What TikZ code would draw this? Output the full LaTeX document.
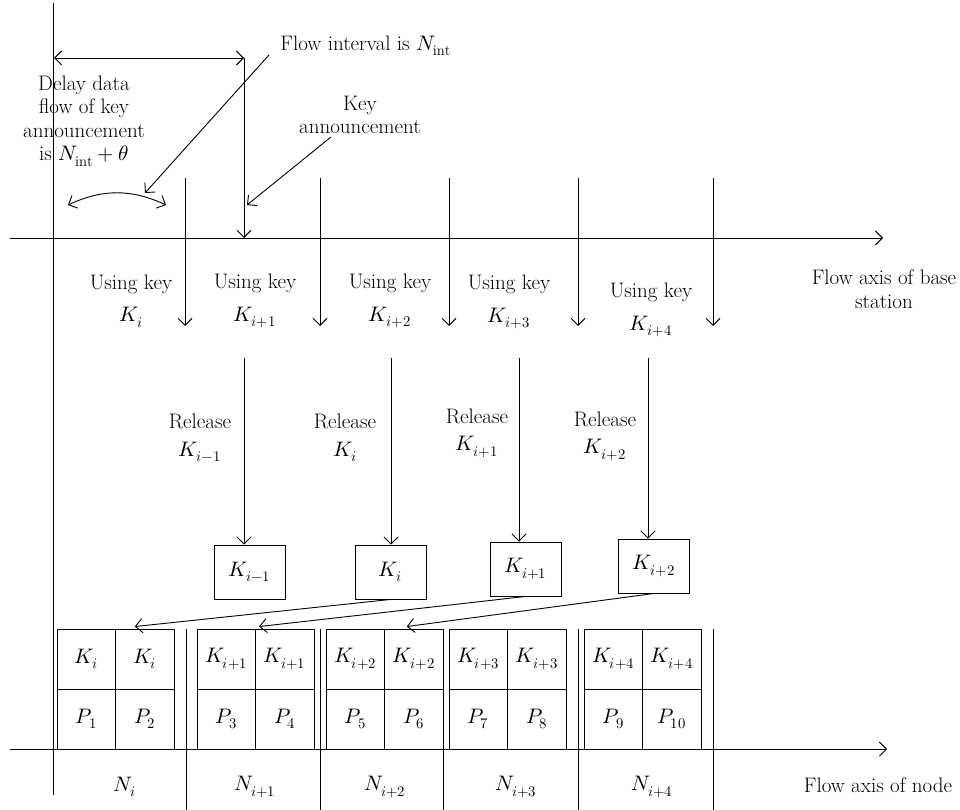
\documentclass[tikz,border=0pt]{standalone}
\usepackage{fontspec}
\usepackage{unicode-math}
\usetikzlibrary{arrows.meta}
\tikzstyle{arr} = [-{Straight Barb[length=7pt,width=14pt]}]
\tikzstyle{dblarr} = [{Straight Barb[length=7pt,width=14pt]}-{Straight Barb[length=7pt,width=14pt]}]
\tikzstyle{keybox} = [draw, rectangle, minimum width=71pt, minimum height=54pt, inner sep=0pt]
\tikzstyle{cell} = [draw, rectangle, minimum width=58.5pt, minimum height=60pt, inner sep=0pt]
\tikzstyle{txt} = [align=center, inner sep=0pt]

\begin{document}
\begin{tikzpicture}[x=1pt, y=-1pt, line width=0.9pt, font=\fontsize{21}{23.5}\selectfont]
	\useasboundingbox (0,0) rectangle (960,810);
	% axes
	\draw (53,3) -- (53,795);
	\draw[arr] (10,238) -- (883,238);
	\draw[arr] (10,749) -- (887,749);
	\node[txt] (base) at (884,289) {Flow axis of base\\station};
	\node[txt] (nodeaxis) at (878,785) {Flow axis of node};
	% top annotations
	\node[txt] (delay) at (84,121) {Delay data\\flow of key\\announcement\\is $N_{\mathrm{int}}+\theta$};
	\node[txt, anchor=west] (interval) at (280,46) {Flow interval is $N_{\mathrm{int}}$};
	\node[txt] (announce) at (360,115) {Key\\announcement};
	\coordinate (ia) at (54,58);
	\coordinate (ib) at (244,58);
	\coordinate (ic) at (244,238);
	\draw[dblarr] (ia) -- (ib);
	\draw[arr] (ib) -- (ic);
	\coordinate (fi) at (269,55);
	\coordinate (fe) at (145,193);
	\draw[arr] (fi) -- (fe);
	\coordinate (ca) at (68,205);
	\coordinate (cb) at (166,205);
	\draw[dblarr] (ca) to[bend left=25] (cb);
	\coordinate (ka) at (331,137);
	\coordinate (ke) at (247,205);
	\draw[arr] (ka) -- (ke);
	% key intervals
	\foreach \x [count=\n] in {185,320,449,578,713} {
		\coordinate (t\n) at (\x,178);
		\coordinate (tb\n) at (\x,326);
		\draw[arr] (t\n) -- (tb\n);
	}
	\foreach \x/\y/\s [count=\n] in {131/301/i,255/301/i+1,390/301/i+2,509/302/i+3,651/310/i+4}
		\node[txt] (use\n) at (\x,\y) {Using key\\[9pt]$K_{\s}$};
	% released keys
	\node[keybox] (b1) at (249.5,572) {$K_{i-1}$};
	\node[keybox] (b2) at (390.5,572) {$K_{i}$};
	\node[keybox] (b3) at (525.5,569) {$K_{i+1}$};
	\node[keybox] (b4) at (654,566) {$K_{i+2}$};
	\foreach \x/\y/\s [count=\n] in {200/438/i-1,345/438/i,477/433/i+1,605/436/i+2}
		\node[txt] (rel\n) at (\x,\y) {Release\\[4pt]$K_{\s}$};
	\foreach \x [count=\n] in {244,391,519,648} {
		\coordinate (r\n) at (\x,358);
		\draw[arr] (r\n) -- (r\n |- b\n.north);
	}
	% packets
	\foreach \x/\s [count=\n] in {57/i,197/i+1,326/i+2,449/i+3,584/i+4} {
		\pgfmathtruncatemacro{\pa}{2*\n-1}
		\pgfmathtruncatemacro{\pb}{2*\n}
		\node[cell] (ka\n) at (\x+29.25,659) {$K_{\s}$};
		\node[cell] (kb\n) at (\x+87.75,659) {$K_{\s}$};
		\node[cell] (pa\n) at (\x+29.25,719) {$P_{\pa}$};
		\node[cell] (pb\n) at (\x+87.75,719) {$P_{\pb}$};
	}
	\draw[arr] (b2.south) -- ([xshift=-10pt,yshift=2pt]kb1.north);
	\draw[arr] (b3.south) -- ([xshift=4pt,yshift=2pt]kb2.north west);
	\draw[arr] (b4.south) -- ([xshift=-7pt,yshift=2pt]kb3.north);
	% node intervals
	\foreach \x in {186,320,443,578,713}
		\draw (\x,629) -- (\x,810);
	\foreach \x/\s [count=\n] in {125/i,255/i+1,385/i+2,516/i+3,652/i+4}
		\node[txt] (n\n) at (\x,787) {$N_{\s}$};
\end{tikzpicture}
\end{document}
